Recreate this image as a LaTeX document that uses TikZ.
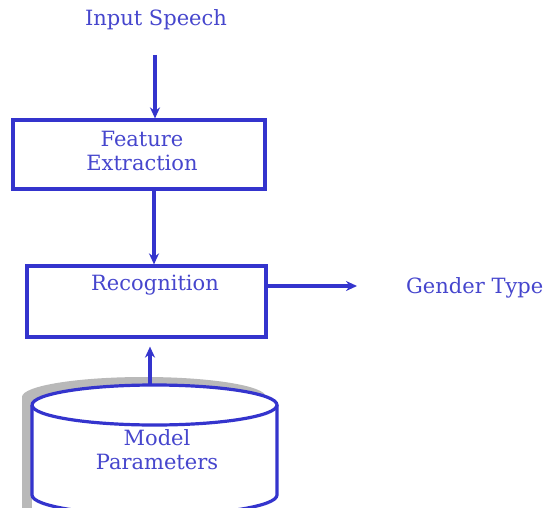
\documentclass[tikz,border=0pt]{standalone}
\usepackage{fontspec}
\setmainfont{DejaVu Serif}
\usetikzlibrary{arrows.meta,calc}
\definecolor{lineblue}{RGB}{52,52,205}
\definecolor{textblue}{RGB}{70,70,205}
\definecolor{shadowgray}{RGB}{185,185,185}
\begin{document}
\begin{tikzpicture}[x=1pt,y=1pt,
  lbl/.style={text=textblue,font=\fontsize{21}{24}\selectfont,align=center,inner sep=0pt},
  boxx/.style={draw=lineblue,line width=3.2pt,rectangle,inner sep=0pt},
  arr/.style={draw=lineblue,line width=3.4pt,-{Stealth[length=11pt,width=10pt]}}]
\useasboundingbox (0,0) rectangle (551,507);
% texts
\node[lbl] (in) at (156,487) {Input Speech};
\coordinate (inarr) at (155,452);
\node[boxx,minimum width=252pt,minimum height=69pt] (fe) at (139,352.5) {};
\node[lbl] (fet) at (142,356) {Feature\\Extraction};
\node[boxx,minimum width=239pt,minimum height=71pt] (rec) at (146.5,205.5) {};
\node[lbl] (rect) at (155,222) {Recognition};
\node[lbl,anchor=west] (gt) at (406,219) {Gender Type};
\coordinate (gtarr) at (357,221);
% cylinder shadow
\fill[shadowgray] (22,10) -- (22,110) arc[start angle=180,end angle=0,x radius=122,y radius=20] -- (266,-20) -- (22,-20) -- cycle;
% cylinder
\fill[white] (32,-20) -- (32,102) arc[start angle=180,end angle=0,x radius=122.5,y radius=20] -- (277,-20) -- cycle;
\draw[lineblue,line width=3.2pt] (32,102) arc[start angle=180,end angle=540,x radius=122.5,y radius=20];
\draw[lineblue,line width=3.2pt] (32,102) -- (32,12) arc[start angle=180,end angle=360,x radius=122.5,y radius=20] -- (277,102);
\coordinate (dbtop) at (150,122);
\node[lbl] (mp) at (157,57) {Model\\Parameters};
% arrows
\draw[arr] (inarr) -- (fe.north -| inarr);
\draw[arr] (fe.south -| 154,0) -- (rec.north -| 154,0);
\draw[arr] (rec.east |- gtarr) -- (gtarr);
\draw[arr,shorten >=8pt] (dbtop) -- (rec.south -| dbtop);
\end{tikzpicture}
\end{document}
